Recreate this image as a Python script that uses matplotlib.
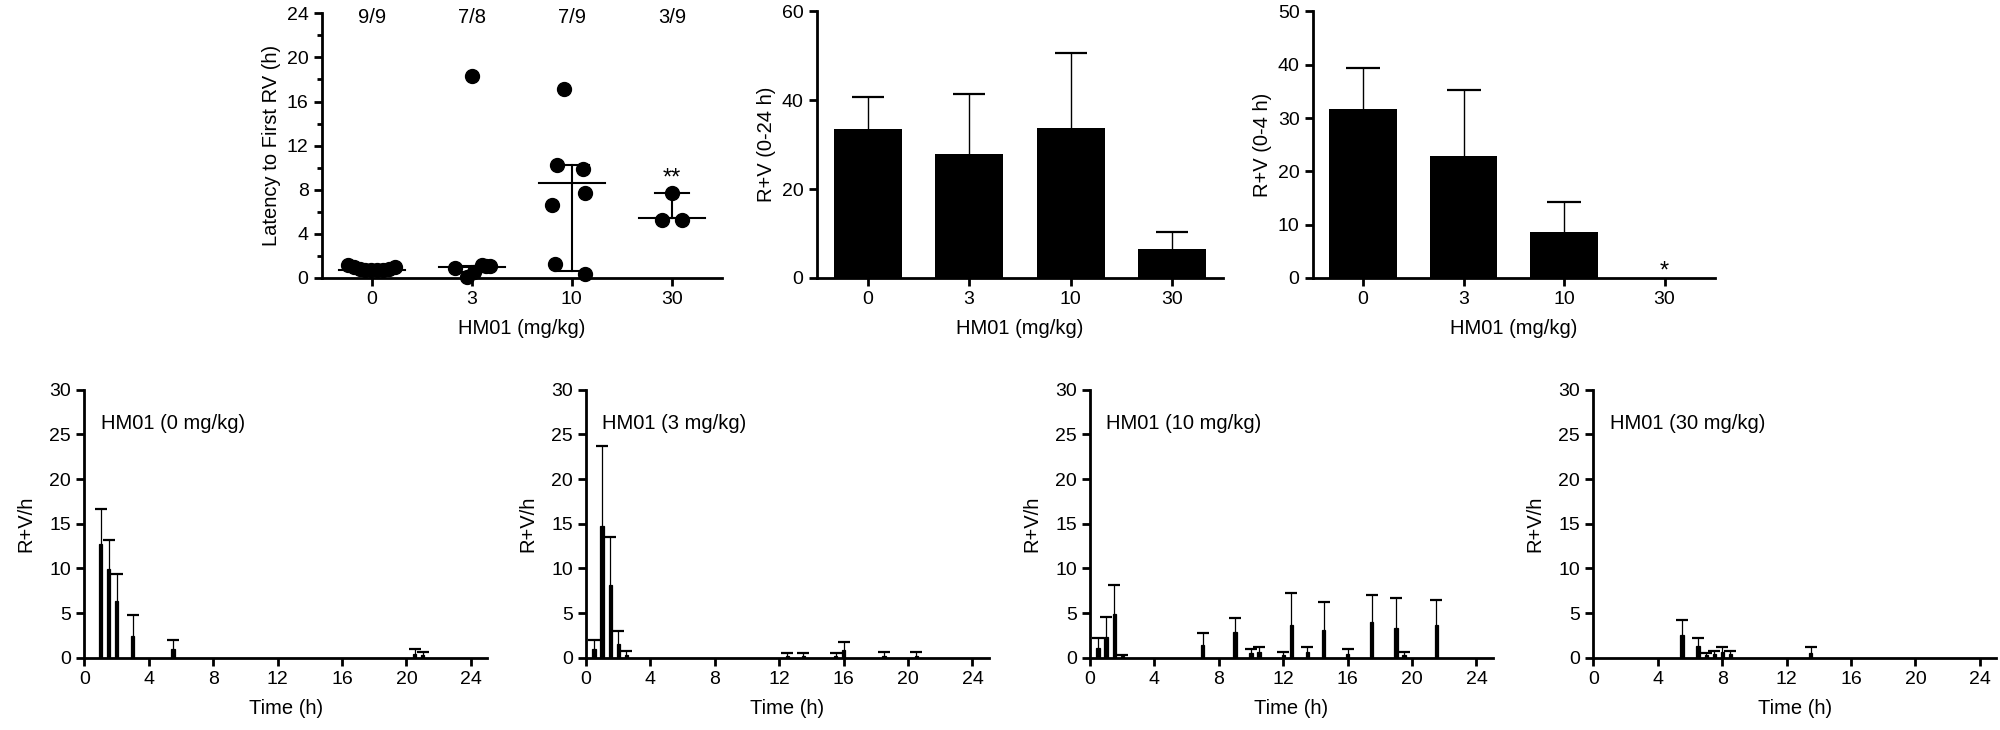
import numpy as np
import matplotlib
matplotlib.use("Agg")
import matplotlib.pyplot as plt
from matplotlib.ticker import MultipleLocator

plt.rcParams["font.family"] = ["Liberation Sans", "DejaVu Sans"]
plt.rcParams["font.size"] = 14

# ---- top-left: latency to first RV (individual animals) ----
doses = ["0", "3", "10", "30"]
lat_0 = [1.2, 1.0, 0.85, 0.75, 0.7, 0.7, 0.75, 0.85, 1.0]
lat_3 = [0.9, 0.05, 0.55, 18.3, 1.2, 1.05, 1.1]
lat_10 = [17.1, 10.2, 9.9, 7.7, 6.6, 1.3, 0.4]
lat_30 = [5.3, 7.7, 5.3]
lat_median = [0.75, 1.04, 8.6, 5.4]
lat_q1 = [0.7, 0.5, 0.6, 5.4]
lat_q3 = [1.0, 1.1, 10.2, 7.7]
responders = ["9/9", "7/8", "7/9", "3/9"]

# ---- top-middle / top-right: totals ----
rv24_mean = [33.5, 28.0, 33.8, 6.5]
rv24_sem = [7.3, 13.3, 16.9, 3.8]
rv4_mean = [31.7, 22.9, 8.6, 0.0]
rv4_sem = [7.7, 12.35, 5.7, 0.0]

# ---- bottom: R+V per hour time courses ----
t_0 = [1, 1.5, 2, 3, 5.5, 20.5, 21]
m_0 = [12.7, 9.9, 6.4, 2.4, 1.0, 0.4, 0.3]
s_0 = [4.0, 3.3, 3.0, 2.4, 0.95, 0.6, 0.3]

t_3 = [0.5, 1, 1.5, 2, 2.5, 12.5, 13.5, 15.5, 16, 18.5, 20.5]
m_3 = [0.97, 14.7, 8.1, 1.5, 0.3, 0.2, 0.2, 0.2, 0.85, 0.2, 0.2]
s_3 = [1.0, 9.0, 5.4, 1.5, 0.4, 0.3, 0.3, 0.3, 0.9, 0.45, 0.45]

t_10 = [0.5, 1, 1.5, 2, 7, 9, 10, 10.5, 12, 12.5, 13.5, 14.5, 16, 17.5, 19, 19.5, 21.5]
m_10 = [1.06, 2.3, 4.9, 0.2, 1.4, 2.9, 0.5, 0.6, 0.3, 3.65, 0.6, 3.1, 0.45, 4.0, 3.35, 0.25, 3.65]
s_10 = [1.14, 2.3, 3.3, 0.15, 1.4, 1.6, 0.5, 0.65, 0.3, 3.65, 0.65, 3.1, 0.55, 3.0, 3.3, 0.35, 2.8]

t_30 = [5.5, 6.5, 7, 7.5, 8, 8.5, 13.5]
m_30 = [2.55, 1.35, 0.25, 0.45, 0.6, 0.4, 0.55]
s_30 = [1.65, 0.85, 0.3, 0.3, 0.6, 0.35, 0.65]

panel_titles = ["HM01 (0 mg/kg)", "HM01 (3 mg/kg)", "HM01 (10 mg/kg)", "HM01 (30 mg/kg)"]

# swarm offsets for the dot plot (layout only)
dx_0 = np.linspace(-0.24, 0.23, 9)
dx_3 = [-0.17, -0.05, 0.02, 0.0, 0.1, 0.18, 0.14]
dx_10 = [-0.08, -0.15, 0.11, 0.13, -0.2, -0.17, 0.13]
dx_30 = [-0.1, 0.0, 0.1]


def style(ax, lw=2.0):
    for s in ["top", "right"]:
        ax.spines[s].set_visible(False)
    for s in ["left", "bottom"]:
        ax.spines[s].set_linewidth(lw)
    ax.tick_params(width=lw, length=6, labelsize=14, direction="out")
    ax.tick_params(which="minor", width=lw, length=3.5)


def upper_err(ax, x, m, s, cap, lw=1.0):
    # Prism-style: only the upper whisker, cap at the top
    x, m, s = np.asarray(x, float), np.asarray(m, float), np.asarray(s, float)
    keep = s > 0
    ax.vlines(x[keep], m[keep], m[keep] + s[keep], color="black", lw=lw, zorder=1)
    ax.plot(x[keep], m[keep] + s[keep], "_", color="black", ms=cap, mew=1.6, zorder=1)


fig = plt.figure(figsize=(20, 7.3), dpi=100)

# ── top-left: scatter with median / IQR ──
ax = fig.add_axes([0.1609, 0.6192, 0.2, 0.3626])
groups = [lat_0, lat_3, lat_10, lat_30]
offs = [dx_0, dx_3, dx_10, dx_30]
for i, (vals, dx) in enumerate(zip(groups, offs)):
    ax.plot(i + np.asarray(dx), vals, "o", color="black", ms=10, zorder=3, clip_on=False)
    ax.plot([i - 0.33, i + 0.33], [lat_median[i]] * 2, color="black", lw=1.5, zorder=2)
    ax.plot([i - 0.17, i + 0.17], [lat_q1[i]] * 2, color="black", lw=1.5, zorder=2)
    ax.plot([i - 0.17, i + 0.17], [lat_q3[i]] * 2, color="black", lw=1.5, zorder=2)
    ax.plot([i, i], [lat_q1[i], lat_q3[i]], color="black", lw=1.5, zorder=2)
    ax.text(i, 23.6, responders[i], ha="center", va="center", fontsize=14.5)
ax.text(3, 9.0, "**", ha="center", va="center", fontsize=17)
ax.set_xlim(-0.5, 3.5)
ax.set_ylim(0, 24)
ax.set_yticks(np.arange(0, 25, 4))
ax.yaxis.set_minor_locator(MultipleLocator(2))
ax.set_xticks(range(4))
ax.set_xticklabels(doses)
ax.set_ylabel("Latency to First RV (h)", fontsize=14.5)
ax.set_xlabel("HM01 (mg/kg)", fontsize=14.5, labelpad=8)
style(ax)

# ── top-middle: R+V 0-24 h ──
ax = fig.add_axes([0.4084, 0.6192, 0.203, 0.3652])
x = np.arange(4)
ax.bar(x, rv24_mean, width=0.67, color="black", lw=0, zorder=2)
upper_err(ax, x, rv24_mean, rv24_sem, cap=23)
ax.set_xlim(-0.5, 3.5)
ax.set_ylim(0, 60)
ax.set_yticks([0, 20, 40, 60])
ax.set_xticks(x)
ax.set_xticklabels(doses)
ax.set_ylabel("R+V (0-24 h)", fontsize=14.5)
ax.set_xlabel("HM01 (mg/kg)", fontsize=14.5, labelpad=8)
style(ax)

# ── top-right: R+V 0-4 h ──
ax = fig.add_axes([0.6564, 0.6192, 0.201, 0.3652])
ax.bar(x, rv4_mean, width=0.67, color="black", lw=0, zorder=2)
upper_err(ax, x, rv4_mean, rv4_sem, cap=24)
ax.text(3, 1.2, "*", ha="center", va="center", fontsize=17)
ax.set_xlim(-0.5, 3.5)
ax.set_ylim(0, 50)
ax.set_yticks(np.arange(0, 51, 10))
ax.set_xticks(x)
ax.set_xticklabels(doses)
ax.set_ylabel("R+V (0-4 h)", fontsize=14.5)
ax.set_xlabel("HM01 (mg/kg)", fontsize=14.5, labelpad=8)
style(ax)

# ── bottom row: time courses ──
lefts = [0.0422, 0.293, 0.545, 0.7967]
series = [(t_0, m_0, s_0), (t_3, m_3, s_3), (t_10, m_10, s_10), (t_30, m_30, s_30)]
for left, (t, m, s), title in zip(lefts, series, panel_titles):
    ax = fig.add_axes([left, 0.099, 0.2013, 0.367])
    ax.bar(t, m, width=0.2, color="black", edgecolor="black", lw=0.9, zorder=2)
    upper_err(ax, t, m, s, cap=8, lw=0.9)
    ax.text(1.0, 26.2, title, ha="left", va="center", fontsize=14.5)
    ax.set_xlim(0, 25)
    ax.set_ylim(0, 30)
    ax.set_xticks(np.arange(0, 25, 4))
    ax.set_yticks(np.arange(0, 31, 5))
    ax.set_xlabel("Time (h)", fontsize=14.5, labelpad=8)
    ax.set_ylabel("R+V/h", fontsize=14.5, labelpad=10)
    style(ax)

fig.savefig("out.png", dpi=100, facecolor="white")
